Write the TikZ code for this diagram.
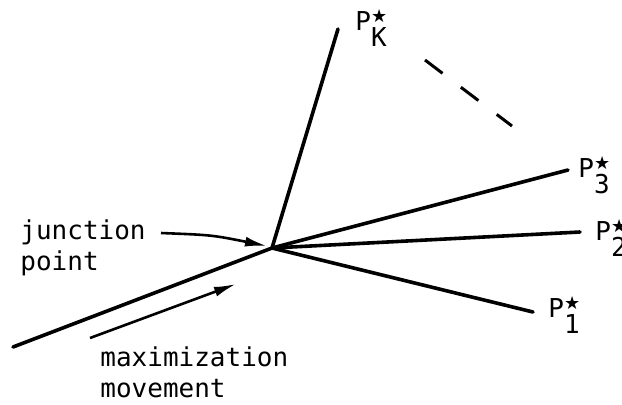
\documentclass[tikz,border=0pt]{standalone}
\usepackage{fontspec}
\setmonofont{DejaVu Sans Mono}
\newfontfamily\starfont{DejaVu Sans}
\usetikzlibrary{arrows.meta}
\newcommand{\pst}[1]{P\makebox[0pt][l]{\raisebox{3.6pt}{\starfont\fontsize{9}{9}\selectfont ★}}\raisebox{-8pt}{#1}}

\begin{document}
\begin{tikzpicture}[x=0.5pt,y=-0.5pt,
  lab/.style={font=\ttfamily\fontsize{13}{15.5}\selectfont,inner sep=0pt,align=left},
  ray/.style={line width=1.8pt,line cap=round},
  pt/.style={draw,line width=1.3pt,-{Latex[length=11pt,width=5pt]}}]
  \useasboundingbox (0,0) rectangle (622,404);
  % junction and far ends of the rays
  \coordinate (J) at (272,248);
  \coordinate (in) at (13,347);
  \coordinate (eK) at (338,29);
  \coordinate (e3) at (568,170);
  \coordinate (e2) at (580,232);
  \coordinate (e1) at (533,312);
  \draw[ray] (in) -- (J);
  \draw[ray] (J) -- (eK);
  \draw[ray] (J) -- (e3);
  \draw[ray] (J) -- (e2);
  \draw[ray] (J) -- (e1);
  \node[lab,anchor=base west] (pK) at (355,30) {\pst{K}};
  \node[lab,anchor=base west] (p3) at (578,177) {\pst{3}};
  \node[lab,anchor=base west] (p2) at (595,240) {\pst{2}};
  \node[lab,anchor=base west] (p1) at (548,317) {\pst{1}};
  \coordinate (dA) at (425,60);
  \coordinate (dB) at (512,126);
  \draw[line width=1.5pt,dash pattern=on 11pt off 11.5pt] (dA) -- (dB);
  % labels
  \node[lab,anchor=base west] (jp) at (20,270) {junction\\point};
  \node[lab,anchor=base west] (mm) at (100,397) {maximization\\movement};
  \coordinate (jt) at (161,233);
  \coordinate (jh) at (267,246);
  \draw[pt] (jt) .. controls (212,235) .. (jh);
  \coordinate (mt) at (90,338);
  \coordinate (mh) at (236,284);
  \draw[pt] (mt) -- (mh);
\end{tikzpicture}
\end{document}
